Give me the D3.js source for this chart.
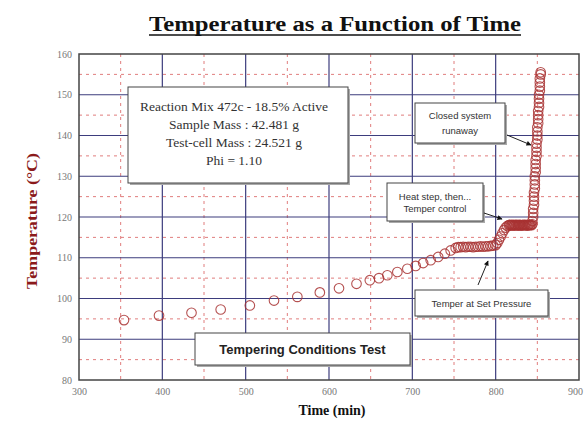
<!DOCTYPE html>
<html>
<head>
<meta charset="utf-8">
<script src="https://cdn.jsdelivr.net/npm/d3@7"></script>
<style>
  body { margin: 0; background: #fff; }
  svg text { font-family: "Liberation Serif", "Times New Roman", serif; }
</style>
</head>
<body>
<div id="chart"></div>
<script>
// Time (min) of each reading
const timeMin = [
    354, 396, 435, 470, 505, 534, 562, 589, 612, 633, 649, 660, 670, 682, 694, 704, 713, 722, 731, 739, 746, 752,
    755, 758, 761, 764, 767, 770, 773, 776, 779, 782, 785, 788, 791, 794, 797, 800,
    802, 804, 806, 808, 810, 812, 814,
    816, 817, 818, 819, 820, 821, 822, 823, 824, 825, 826, 827, 828, 829, 830, 831, 832, 833, 834, 835, 836, 837, 838, 839, 840, 841, 842, 843, 844,
    844, 845, 845, 845, 846, 846, 846, 846, 847, 847, 847, 847, 848, 848, 848, 848, 849, 849, 849, 849, 850, 850, 850, 850,
    851, 851, 851, 851, 852, 852, 852, 852, 853, 853, 853, 853, 854, 854
];
// Temperature (C) of each reading
const tempC = [
    94.7, 95.8, 96.5, 97.3, 98.3, 99.5, 100.4, 101.5, 102.5, 103.6, 104.5, 105.0, 105.7, 106.5, 107.3, 108.0, 108.7, 109.4, 110.2, 111.0, 111.8, 112.4,
    112.6, 112.6, 112.7, 112.6, 112.7, 112.7, 112.6, 112.7, 112.7, 112.8, 112.7, 112.8, 112.8, 112.9, 113.0, 113.1,
    113.6, 114.4, 115.2, 116.0, 116.8, 117.4, 117.8,
    118.0, 118.1, 117.9, 118.0, 118.1, 118.0, 117.9, 118.1, 118.0, 118.0, 118.1, 117.9, 118.0, 118.1, 118.0, 117.9, 118.0, 118.1, 118.0, 118.0, 118.1, 118.0, 117.9, 118.0, 118.1, 118.0, 118.1, 118.0, 118.2,
    119.0, 120.0, 121.0, 122.0, 123.0, 124.0, 125.0, 126.0, 127.0, 128.0, 129.0, 130.0, 131.0, 132.0, 133.0, 134.0, 135.0, 136.0, 137.0, 138.0, 139.0, 140.0, 141.0, 142.0,
    143.0, 144.0, 145.0, 146.0, 147.0, 148.0, 149.0, 150.0, 151.0, 152.0, 153.0, 154.0, 155.0, 155.5
];

const xTicks = [300, 400, 500, 600, 700, 800, 900];
const yTicks = [80, 90, 100, 110, 120, 130, 140, 150, 160];
const xMinor = [350, 450, 550, 650, 750, 850];
const yMinor = [85, 95, 105, 115, 125, 135, 145, 155];

const infoLines = [
    "Reaction Mix 472c - 18.5% Active",
    "Sample Mass : 42.481 g",
    "Test-cell Mass : 24.521 g",
    "Phi = 1.10"
];
const runawayLines = ["Closed system", "runaway"];
const heatLines = ["Heat step, then...", "Temper control"];
const setPressLines = ["Temper at Set Pressure"];
const testLines = ["Tempering Conditions Test"];

const CHART = {
    width: 585,
    height: 423,
    left: 79,
    right: 579,
    top: 54,
    bottom: 380,
    colors: {
        major: "#3d3d7d",
        minor: "#d85c5c",
        frame: "#444",
        point: "#a83232",
        ylabel: "#8b1a1a",
        tick: "#777"
    }
};

const svg = d3.select("#chart")
    .append("svg")
    .attr("width", CHART.width)
    .attr("height", CHART.height);

const xScale = d3.scaleLinear()
    .domain([300, 900])
    .range([CHART.left, CHART.right]);

const yScale = d3.scaleLinear()
    .domain([80, 160])
    .range([CHART.bottom, CHART.top]);

// arrow head
svg.append("defs")
    .append("marker")
    .attr("id", "arrow")
    .attr("viewBox", "0 0 10 10")
    .attr("refX", 9)
    .attr("refY", 5)
    .attr("markerWidth", 7)
    .attr("markerHeight", 5)
    .attr("markerUnits", "userSpaceOnUse")
    .attr("orient", "auto")
    .append("path")
    .attr("d", "M0,0 L10,5 L0,10 z")
    .attr("fill", "#111");

// minor dashed grid
svg.append("g").selectAll("line")
    .data(xMinor)
    .join("line")
    .attr("x1", d => xScale(d)).attr("x2", d => xScale(d))
    .attr("y1", CHART.top).attr("y2", CHART.bottom)
    .attr("stroke", CHART.colors.minor)
    .attr("stroke-width", 0.8)
    .attr("stroke-dasharray", "3 4");

svg.append("g").selectAll("line")
    .data(yMinor)
    .join("line")
    .attr("x1", CHART.left).attr("x2", CHART.right)
    .attr("y1", d => yScale(d)).attr("y2", d => yScale(d))
    .attr("stroke", CHART.colors.minor)
    .attr("stroke-width", 0.8)
    .attr("stroke-dasharray", "3 4");

// major grid
svg.append("g").selectAll("line")
    .data(xTicks.slice(1, -1))
    .join("line")
    .attr("x1", d => xScale(d)).attr("x2", d => xScale(d))
    .attr("y1", CHART.top).attr("y2", CHART.bottom)
    .attr("stroke", CHART.colors.major)
    .attr("stroke-width", 1.2);

svg.append("g").selectAll("line")
    .data(yTicks.slice(1, -1))
    .join("line")
    .attr("x1", CHART.left).attr("x2", CHART.right)
    .attr("y1", d => yScale(d)).attr("y2", d => yScale(d))
    .attr("stroke", CHART.colors.major)
    .attr("stroke-width", 1.2);

// frame
svg.append("rect")
    .attr("x", CHART.left)
    .attr("y", CHART.top)
    .attr("width", CHART.right - CHART.left)
    .attr("height", CHART.bottom - CHART.top)
    .attr("fill", "none")
    .attr("stroke", CHART.colors.frame)
    .attr("stroke-width", 1.5);

// axes (labels only, the grid does the rest)
const xAxis = svg.append("g")
    .attr("transform", `translate(0, ${CHART.bottom})`)
    .call(d3.axisBottom(xScale).tickValues(xTicks).tickSize(0).tickPadding(8));
const yAxis = svg.append("g")
    .attr("transform", `translate(${CHART.left}, 0)`)
    .call(d3.axisLeft(yScale).tickValues(yTicks).tickSize(0).tickPadding(7));
[xAxis, yAxis].forEach(a => {
    a.select(".domain").remove();
    a.selectAll("text")
        .attr("fill", CHART.colors.tick)
        .style("font-family", "Liberation Serif, serif")
        .style("font-size", "10px");
});
// last x label sits at the window edge, pull it in a little
xAxis.selectAll(".tick text")
    .filter(d => d === 900)
    .attr("dx", -4);

// data points
svg.append("g").selectAll("circle")
    .data(timeMin.map((t, i) => ({ t, c: tempC[i] })))
    .join("circle")
    .attr("cx", d => xScale(d.t))
    .attr("cy", d => yScale(d.c))
    .attr("r", 4.8)
    .attr("fill", "none")
    .attr("stroke", CHART.colors.point)
    .attr("stroke-width", 1.1)
    .attr("stroke-opacity", 0.85);

// title
svg.append("text")
    .attr("x", 335)
    .attr("y", 31)
    .attr("text-anchor", "middle")
    .attr("textLength", 372)
    .attr("lengthAdjust", "spacingAndGlyphs")
    .style("font-size", "20px")
    .style("font-weight", "bold")
    .attr("fill", "#111")
    .text("Temperature as a Function of Time");
svg.append("line")
    .attr("x1", 149).attr("x2", 521)
    .attr("y1", 35).attr("y2", 35)
    .attr("stroke", "#111")
    .attr("stroke-width", 1.4);

// axis titles
svg.append("text")
    .attr("transform", "translate(37, 221) rotate(-90)")
    .attr("text-anchor", "middle")
    .attr("textLength", 136)
    .attr("lengthAdjust", "spacingAndGlyphs")
    .attr("fill", CHART.colors.ylabel)
    .style("font-size", "15px")
    .style("font-weight", "bold")
    .text("Temperature (°C)");

svg.append("text")
    .attr("x", 332)
    .attr("y", 415)
    .attr("text-anchor", "middle")
    .attr("fill", "#111")
    .style("font-size", "14px")
    .style("font-weight", "bold")
    .text("Time (min)");

// annotation boxes
const noteBox = (x, y, w, h, lines, opts) => {
    const g = svg.append("g");
    g.append("rect")
        .attr("x", x + 2).attr("y", y + 2)
        .attr("width", w).attr("height", h)
        .attr("fill", "#aaa");
    g.append("rect")
        .attr("x", x).attr("y", y)
        .attr("width", w).attr("height", h)
        .attr("fill", "#fff")
        .attr("stroke", "#444")
        .attr("stroke-width", 1);
    g.selectAll("text")
        .data(lines)
        .join("text")
        .attr("x", x + w / 2 + (opts.dx || 0))
        .attr("y", (d, i) => y + opts.first + i * opts.step)
        .attr("text-anchor", "middle")
        .attr("fill", opts.color || "#333")
        .style("font-family", opts.family)
        .style("font-size", opts.size)
        .style("font-weight", opts.weight || "normal")
        .text(d => d);
};

noteBox(128, 87, 220, 96, infoLines,
    { first: 24, step: 18, size: "13.5px", family: "Liberation Serif, serif", dx: -4 });
noteBox(415, 103, 90, 40, runawayLines,
    { first: 16, step: 15, size: "9.5px", family: "Liberation Sans, Arial, sans-serif" });
noteBox(387, 183, 96, 38, heatLines,
    { first: 17, step: 12, size: "9.5px", family: "Liberation Sans, Arial, sans-serif" });
noteBox(415, 290, 133, 26, setPressLines,
    { first: 17, step: 12, size: "9.5px", family: "Liberation Sans, Arial, sans-serif" });
noteBox(195, 333, 215, 32, testLines,
    { first: 21, step: 12, size: "13px", family: "Liberation Sans, Arial, sans-serif", weight: "bold", color: "#222" });

// arrows from the notes to the curve
const arrows = [
    [[507, 135], [531, 145]],
    [[484, 213], [502, 219]],
    [[478, 285], [488, 261]]
];
svg.append("g").selectAll("line")
    .data(arrows)
    .join("line")
    .attr("x1", d => d[0][0]).attr("y1", d => d[0][1])
    .attr("x2", d => d[1][0]).attr("y2", d => d[1][1])
    .attr("stroke", "#222")
    .attr("stroke-width", 1)
    .attr("marker-end", "url(#arrow)");
</script>
</body>
</html>
